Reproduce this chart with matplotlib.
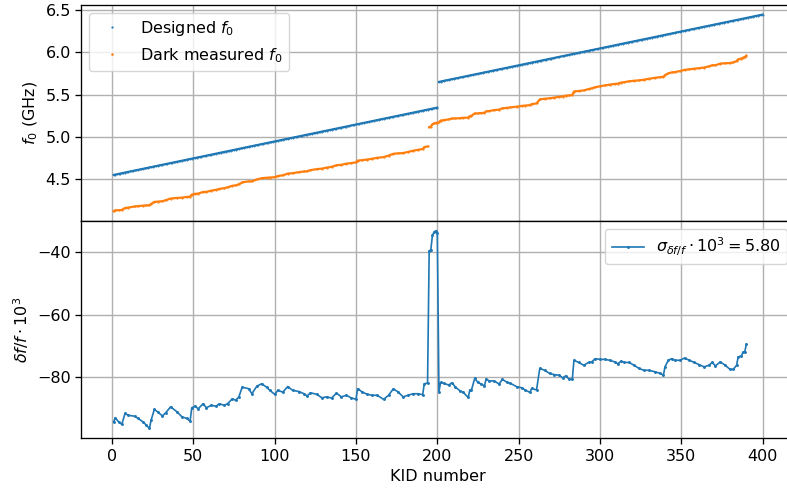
import numpy as np
import matplotlib
matplotlib.use("Agg")
import matplotlib.pyplot as plt

plt.rcParams["font.size"] = 11.5
plt.rcParams["axes.linewidth"] = 0.95
plt.rcParams["xtick.major.width"] = 0.95
plt.rcParams["ytick.major.width"] = 0.95
plt.rcParams["xtick.major.size"] = 4
plt.rcParams["ytick.major.size"] = 4

# ---- designed resonance frequencies (two bands, 4 MHz spacing) ----
band1_kids = np.arange(1, 201)
band2_kids = np.arange(201, 401)
band1_start_ghz = 4.55
band2_start_ghz = 5.65
design_step_ghz = 0.004

# ---- measured fractional shift (df/f * 1e3) ----
kid_meas = [1, 2, 4, 6, 8, 10, 14, 16, 19, 21, 23, 24, 26, 28, 31, 33, 36, 40, 43, 46,
            48, 49, 51, 53, 56, 58, 61, 64, 66, 69, 71, 74, 76, 78, 80, 84, 86, 89, 92, 95,
            97, 100, 102, 105, 108, 111, 115, 118, 120, 122, 126, 129, 132, 135, 138, 141,
            144, 147, 150, 151, 154, 157, 160, 163, 167, 170, 173, 176, 179, 182, 185, 188,
            191, 192, 194, 195, 196, 197, 198, 199, 200,
            201, 202, 204, 207, 209, 211, 214, 216, 219, 220, 221, 223, 225, 227, 229, 230,
            232, 235, 238, 240, 243, 245, 249, 252, 254, 257, 258, 261, 263, 266, 269, 272,
            275, 277, 279, 281, 283, 284, 287, 290, 293, 295, 297, 300, 303, 306, 309, 311,
            313, 315, 318, 321, 324, 327, 330, 334, 337, 339, 340, 342, 344, 346, 349, 352,
            355, 358, 361, 364, 367, 369, 371, 374, 377, 380, 382, 384, 385, 387, 388, 389, 390]
dff_meas = [-94.3, -93.0, -94.3, -95.1, -91.6, -92.2, -92.5, -93.2, -94.3, -95.3, -96.4, -93.8,
            -90.3, -91.1, -92.4, -91.4, -89.5, -91.1, -92.7, -93.2, -94.1, -89.8, -89.3, -90.1,
            -88.5, -89.8, -89.0, -89.3, -88.5, -89.0, -88.5, -86.9, -87.4, -86.3, -83.2, -83.7,
            -85.3, -82.9, -82.1, -83.2, -84.2, -85.5, -84.2, -84.8, -83.0, -84.2, -84.6, -85.3,
            -86.0, -85.0, -85.5, -86.6, -86.3, -86.7, -85.1, -86.3, -85.8, -86.6, -87.1, -83.7,
            -84.8, -85.5, -85.8, -85.8, -87.1, -85.8, -83.7, -84.8, -86.3, -85.8, -85.3, -85.3,
            -85.6, -82.1, -81.9, -39.6, -39.3, -34.6, -33.6, -33.2, -33.8,
            -84.7, -81.7, -82.0, -82.5, -81.8, -83.1, -84.4, -84.9, -86.5, -84.1, -84.1, -80.4,
            -81.7, -82.2, -82.8, -80.6, -81.2, -81.2, -82.2, -80.7, -81.7, -82.0, -83.1, -83.4,
            -84.1, -84.9, -83.6, -84.1, -77.2, -77.8, -78.8, -79.2, -79.4, -80.2, -79.6, -80.6,
            -80.7, -74.6, -75.3, -76.2, -75.3, -75.1, -74.1, -74.3, -74.3, -74.6, -75.1, -75.7,
            -74.9, -75.3, -75.3, -76.2, -77.2, -77.8, -77.8, -78.3, -78.8, -79.4, -76.7, -74.6,
            -74.1, -74.6, -74.6, -73.9, -74.6, -75.3, -76.0, -76.7, -76.2, -75.3, -76.4, -75.1,
            -76.2, -77.5, -77.5, -76.2, -73.5, -73.2, -72.0, -72.0, -69.5]

# measured resonances split into the two groups seen in the plot (gap after KID 194)
meas_group_edges = [194, 195]

sigma_label = r"$\sigma_{\delta f/f} \cdot 10^3 = 5.80$"

# ---- build series ----
kids_design = np.concatenate([band1_kids, band2_kids])
f_design = np.concatenate([band1_start_ghz + design_step_ghz * (band1_kids - 1),
                           band2_start_ghz + design_step_ghz * (band2_kids - 201)])
kid_meas = np.array(kid_meas)
dff_meas = np.array(dff_meas)
f_design_at_meas = np.interp(kid_meas, kids_design, f_design)
f_meas = f_design_at_meas * (1 + dff_meas / 1e3)

# ---- figure ----
fig = plt.figure(figsize=(7.87, 4.90), dpi=100)
ax1 = fig.add_axes([0.1032, 0.549, 0.9070, 0.4414])
ax2 = fig.add_axes([0.1032, 0.1055, 0.9070, 0.4435], sharex=ax1)

# continuous traces underneath the point markers (densely packed dots)
for kk in (band1_kids, band2_kids):
    m = np.isin(kids_design, kk)
    ax1.plot(kids_design[m], f_design[m], "-", color="C0", linewidth=1.5)
g1 = kid_meas <= meas_group_edges[0]
g2 = kid_meas >= meas_group_edges[1]
for g in (g1, g2):
    ax1.plot(kid_meas[g], f_meas[g], "-", color="C1", linewidth=1.6)

ax1.plot(kids_design, f_design, ".", color="C0", markersize=1.0, markeredgewidth=0.9,
         label="Designed $f_0$")
ax1.plot(kid_meas, f_meas, ".", color="C1", markersize=1.2, markeredgewidth=1.0,
         label="Dark measured $f_0$")
ax1.set_ylabel("$f_0$ (GHz)")
ax1.set_yticks([4.5, 5.0, 5.5, 6.0, 6.5])
ax1.grid(True, linewidth=1.0)
leg1 = ax1.legend(loc="upper left", markerscale=1.4)
ax1.tick_params(labelbottom=False)

ax2.plot(kid_meas, dff_meas, ".-", color="C0", markersize=2.2, linewidth=1.2, label=sigma_label)
ax2.set_ylabel(r"$\delta f/f \cdot 10^3$")
ax2.set_yticks([-80, -60, -40])
ax2.set_xticks([0, 50, 100, 150, 200, 250, 300, 350, 400])
ax2.set_xlabel("KID number")
ax2.grid(True, linewidth=1.0)
ax2.legend(loc="upper right")

fig.savefig("out.png", dpi=100)
